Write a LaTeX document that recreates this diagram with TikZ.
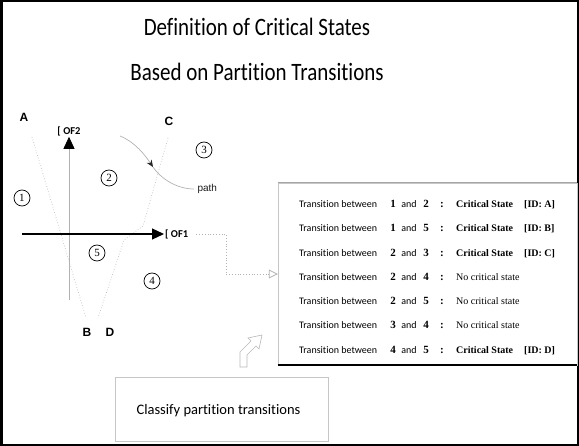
\documentclass[tikz,border=0pt]{standalone}
\usepackage{fontspec}
\setmainfont{Liberation Serif}
\newfontfamily\gillfont[Ligatures=NoCommon]{Carlito}
\newfontfamily\helvfont{Liberation Sans}
\usetikzlibrary{arrows.meta}
\tikzset{>=stealth}

\begin{document}
\begin{tikzpicture}[x=1pt,y=-1pt,
  region/.style={circle,draw,line width=0.7pt,inner sep=0pt,minimum size=16pt,font=\fontsize{11}{11}\selectfont},
  corner/.style={font=\helvfont\bfseries\fontsize{12}{12}\selectfont},
  bound/.style={gray!50,dotted,line width=0.7pt},
  axlabel/.style={font=\gillfont\bfseries\fontsize{10.5}{11}\selectfont,inner sep=1pt},
  link/.style={gray!60,dotted,line width=0.8pt},
  tcell/.style={font=\gillfont\fontsize{10}{10}\selectfont,inner sep=0pt},
  num/.style={font=\bfseries\fontsize{11}{11}\selectfont,inner sep=0pt},
  heading/.style={font=\gillfont\fontsize{25}{28}\selectfont}]
\useasboundingbox (0,0) rectangle (579,446);
\draw[line width=2pt] (1,1) rectangle (578,445);
\draw[line width=3pt] (1.5,0) -- (1.5,446);
% title
\node[heading] (title1) at (257,27) {\scalebox{0.84}[1]{Definition of Critical States}};
\node[heading] (title2) at (257,72) {\scalebox{0.84}[1]{Based on Partition Transitions}};
% partitions
\draw[bound] (32,137) -- (86,318);
\draw[bound] (168,138) -- (143,226) -- (124,240) -- (98,318);
\node[corner] (lblA) at (24,117) {A};
\node[corner] (lblC) at (169,121) {C};
\node[corner] (lblB) at (87,332) {B};
\node[corner] (lblD) at (110,332) {D};
\node[region] (r1) at (22,198) {1};
\node[region] (r2) at (109,178) {2};
\node[region] (r3) at (204,150) {3};
\node[region] (r4) at (152,281) {4};
\node[region] (r5) at (97,253) {5};
% axes
\node[axlabel] (of2) at (69,131) {[ OF2};
\node[axlabel,anchor=west] (of1) at (164,234) {[ OF1};
\draw[gray!60,line width=0.8pt,-{Triangle[length=12pt,width=11pt,color=black]}] (69,300) -- (of2.south);
\draw[line width=1.2pt,-{Triangle[length=12pt,width=11pt]}] (22,234) -- (of1.west);
% path
\node[font=\helvfont\fontsize{10}{10}\selectfont,text=gray!20!black,anchor=west] (pathlbl) at (194,189) {path};
\coordinate (cross) at (153,167);
\draw[gray!60,line width=0.7pt,-{Stealth[length=7pt,width=6pt,color=gray!30!black]}] (120,136) .. controls (135,142) and (145,155) .. (cross);
\draw[gray!60,line width=0.7pt] (cross) .. controls (162,180) and (178,189) .. (pathlbl.west);
% table
\node[draw=gray!45,fill=white,minimum width=299pt,minimum height=182pt,inner sep=0pt] (tbl) at (427.5,274) {};
\draw[gray!70,line width=1pt] (tbl.north west) -- (tbl.north east);
\draw[line width=1.5pt] (tbl.south west) -- (tbl.south east);
\draw[link,-{Triangle[open,length=9pt,width=9pt]}] ([xshift=7pt]of1.east) -- (226,234) |- (tbl.west);
\foreach \i/\a/\b/\st/\id in {1/1/2/{\textbf{Critical State}}/{[ID: A]},
  2/1/5/{\textbf{Critical State}}/{[ID: B]},
  3/2/3/{\textbf{Critical State}}/{[ID: C]},
  4/2/4/{No critical state}/{},
  5/2/5/{No critical state}/{},
  6/3/4/{No critical state}/{},
  7/4/5/{\textbf{Critical State}}/{[ID: D]}}
{
  \pgfmathsetmacro\ry{207.5+24.3*(\i-1)}
  \node[tcell,anchor=base west] (tr\i) at (299,\ry) {Transition between};
  \node[num,anchor=base] (na\i) at (393,\ry) {\a};
  \node[tcell,anchor=base] (and\i) at (409,\ry) {and};
  \node[num,anchor=base] (nb\i) at (426,\ry) {\b};
  \node[num,anchor=base] (col\i) at (442,\ry) {:};
  \node[anchor=base west,inner sep=0pt,font=\fontsize{10}{10}\selectfont] (st\i) at (456,\ry) {\st};
  \node[anchor=base west,inner sep=0pt,font=\bfseries\fontsize{10}{10}\selectfont] (id\i) at (524,\ry) {\id};
}
% classify
\draw[gray!55,fill=white,line width=0.6pt] (240,367) -- (240,352) -- (251,341) -- (248,338) -- (262,335)
  -- (259,349) -- (256,346) -- (247,355) -- (247,367) -- cycle;
\node[draw=gray!45,minimum width=213pt,minimum height=64pt] (cls) at (221.5,409) {};
\node[font=\gillfont\fontsize{14.5}{16}\selectfont,anchor=west] (clstxt) at (133,411) {Classify partition transitions};
\end{tikzpicture}
\end{document}
